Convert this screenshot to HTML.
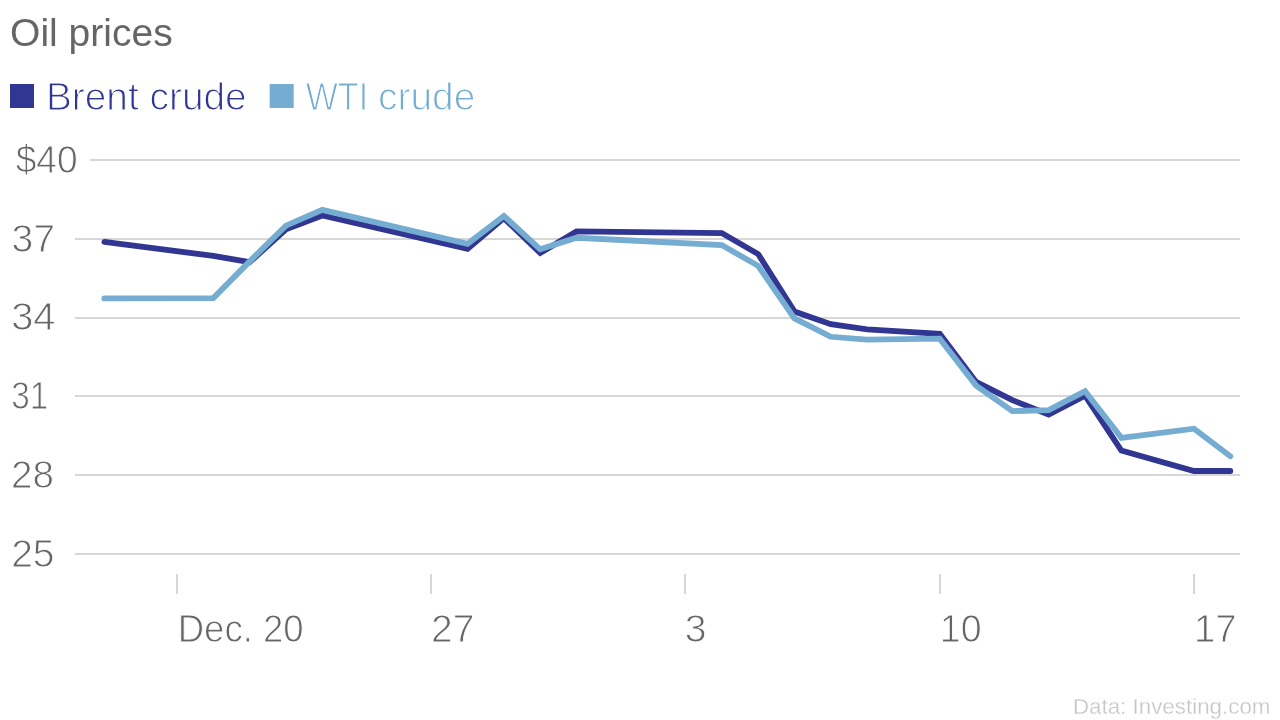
<!DOCTYPE html>
<html><head><meta charset="utf-8"><style>
html,body{margin:0;padding:0;background:#fff;width:1280px;height:720px;overflow:hidden}
svg{display:block}
text{font-family:"Liberation Sans",sans-serif}
.g{stroke:#d7d7d7;stroke-width:2}
.ln{fill:none;stroke-width:5.8;stroke-linejoin:miter;stroke-linecap:round}
.ax{font-size:38.4px;fill:#666}
.title{font-size:38.4px;fill:#666}
.leg{font-size:39px}
.lt{stroke:#fff;stroke-width:0.9px}
.lt2{stroke:#fff;stroke-width:1.1px}
.src{font-size:22.7px;fill:#c6c6c6;stroke:#fff;stroke-width:0.3px}
</style></head><body>
<svg width="1280" height="720" viewBox="0 0 1280 720">
<text id="t-title" x="10.08" y="46.00" class="title" textLength="162.59" lengthAdjust="spacingAndGlyphs">Oil prices</text>
<rect x="10" y="84" width="24" height="24" fill="#313692"/>
<text id="t-brent" x="45.89" y="109.80" class="leg lt2" textLength="200.85" lengthAdjust="spacingAndGlyphs" fill="#313692">Brent crude</text>
<rect x="269.7" y="84" width="24" height="24" fill="#75acd2"/>
<text id="t-wti1" x="305.72" y="109.80" class="leg lt2" textLength="62.43" lengthAdjust="spacingAndGlyphs" fill="#75acd2">WTI</text>
<text id="t-wti2" x="378.09" y="109.80" class="leg lt2" textLength="97.28" lengthAdjust="spacingAndGlyphs" fill="#75acd2">crude</text>
<line x1="90" y1="160" x2="1240" y2="160" class="g"/>
<line x1="75" y1="239" x2="1240" y2="239" class="g"/>
<line x1="75" y1="318" x2="1240" y2="318" class="g"/>
<line x1="75" y1="396" x2="1240" y2="396" class="g"/>
<line x1="75" y1="475" x2="1240" y2="475" class="g"/>
<line x1="75" y1="554" x2="1240" y2="554" class="g"/>
<text id="t-y40" x="15.64" y="172.80" class="ax lt" textLength="62.00" lengthAdjust="spacingAndGlyphs">$40</text>
<text id="t-y37" x="11.45" y="251.60" class="ax lt" textLength="43.58" lengthAdjust="spacingAndGlyphs">37</text>
<text id="t-y34" x="11.20" y="330.40" class="ax lt" textLength="44.37" lengthAdjust="spacingAndGlyphs">34</text>
<text id="t-y31" x="11.17" y="409.20" class="ax lt" textLength="37.12" lengthAdjust="spacingAndGlyphs">31</text>
<text id="t-y28" x="11.10" y="488.00" class="ax lt" textLength="43.00" lengthAdjust="spacingAndGlyphs">28</text>
<text id="t-y25" x="11.15" y="566.80" class="ax lt" textLength="43.42" lengthAdjust="spacingAndGlyphs">25</text>
<line x1="177" y1="574" x2="177" y2="594" class="g"/>
<line x1="431" y1="574" x2="431" y2="594" class="g"/>
<line x1="685" y1="574" x2="685" y2="594" class="g"/>
<line x1="940" y1="574" x2="940" y2="594" class="g"/>
<line x1="1194" y1="574" x2="1194" y2="594" class="g"/>
<text id="t-xdec20" x="177.71" y="641.80" class="ax lt" textLength="125.95" lengthAdjust="spacingAndGlyphs">Dec. 20</text>
<text id="t-x27" x="431.00" y="641.80" class="ax lt" textLength="43.35" lengthAdjust="spacingAndGlyphs">27</text>
<text id="t-x3" x="684.65" y="641.80" class="ax lt" textLength="21.75" lengthAdjust="spacingAndGlyphs">3</text>
<text id="t-x10" x="939.78" y="641.80" class="ax lt" textLength="41.81" lengthAdjust="spacingAndGlyphs">10</text>
<text id="t-x17" x="1193.98" y="641.80" class="ax lt" textLength="42.63" lengthAdjust="spacingAndGlyphs">17</text>
<polyline points="104.36,241.95 213.32,255.87 249.64,262.18 285.96,229.34 322.29,215.42 467.57,248.78 503.89,218.05 540.21,252.98 576.54,231.45 721.82,233.02 758.14,254.03 794.46,311.56 830.79,324.17 867.11,329.42 939.75,333.89 976.07,381.95 1012.39,400.08 1048.71,414.52 1085.04,395.61 1121.36,450.51 1194.00,471.00 1230.32,471.00" class="ln" stroke="#313692"/>
<polyline points="104.36,298.43 213.32,298.16 249.64,261.39 285.96,225.67 322.29,209.91 467.57,243.79 503.89,215.95 540.21,249.31 576.54,237.75 721.82,245.10 758.14,265.85 794.46,318.39 830.79,336.77 867.11,339.66 939.75,338.61 976.07,385.63 1012.39,411.11 1048.71,410.06 1085.04,391.15 1121.36,437.90 1194.00,428.71 1230.32,456.29" class="ln" stroke="#75acd2"/>
<text id="t-src" x="1072.90" y="713.90" class="src" textLength="197.54" lengthAdjust="spacingAndGlyphs">Data: Investing.com</text>
</svg>
</body></html>
